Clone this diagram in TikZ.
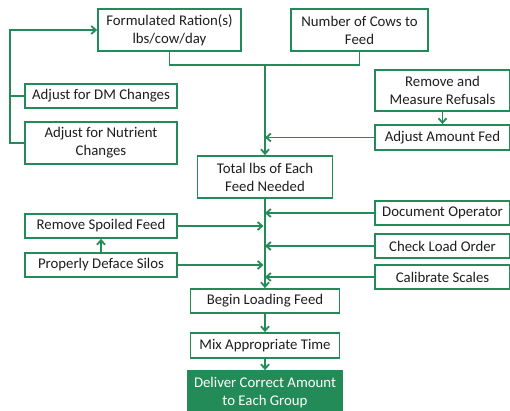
\documentclass[tikz,border=0pt]{standalone}
\usepackage{fontspec}
\setmainfont{Carlito}
\usepackage{tikz}
\usetikzlibrary{arrows.meta,positioning,calc}
\usepackage{xcolor}
\definecolor{feedgreen}{HTML}{238B57}
\definecolor{boxtext}{HTML}{1E1E1E}

\tikzset{
  stepbox/.style={draw=feedgreen,line width=1.8pt,fill=white,text=boxtext,
    align=center,inner sep=0pt,font=\fontsize{14.8}{18}\selectfont},
  finalbox/.style={stepbox,fill=feedgreen,text=white},
  flow/.style={draw=feedgreen,line width=1.8pt},
  flowarrow/.style={flow,-{Straight Barb[length=4.5pt,width=8pt]}}
}

\begin{document}
\begin{tikzpicture}[x=1pt,y=-1pt]
  \useasboundingbox (0,0) rectangle (510,411);

  % inputs at the top
  \node[stepbox,minimum width=143pt,minimum height=42pt] (ration) at (169.5,30) {Formulated Ration(s)\\lbs/cow/day};
  \node[stepbox,minimum width=137pt,minimum height=42pt] (cows) at (359.5,30) {Number of Cows to\\Feed};

  % adjustments on the left
  \node[stepbox,minimum width=152pt,minimum height=24pt] (dm) at (101,96) {Adjust for DM Changes};
  \node[stepbox,minimum width=152pt,minimum height=42pt] (nutrient) at (101,143) {Adjust for Nutrient\\Changes};

  % refusals on the right
  \node[stepbox,minimum width=135pt,minimum height=41pt] (refusals) at (442.5,90.5) {Remove and\\Measure Refusals};
  \node[stepbox,minimum width=135pt,minimum height=25pt] (adjfed) at (442.5,137.5) {Adjust Amount Fed};

  \node[stepbox,minimum width=135pt,minimum height=42pt] (total) at (265,177) {Total lbs of Each\\Feed Needed};

  % checks before loading
  \foreach \name/\y/\txt in {docop/213/Document Operator,loadorder/246/Check Load Order,scales/277/Calibrate Scales}
    \node[stepbox,minimum width=135pt,minimum height=24pt] (\name) at (442.5,\y) {\txt};
  \node[stepbox,minimum width=152pt,minimum height=24pt] (spoiled) at (101,226) {Remove Spoiled Feed};
  \node[stepbox,minimum width=152pt,minimum height=24pt] (deface) at (101,265) {Properly Deface Silos};

  % loading and delivery
  \node[stepbox,minimum width=149pt,minimum height=24pt] (begin) at (265,301) {Begin Loading Feed};
  \node[stepbox,minimum width=149pt,minimum height=25pt] (mix) at (265,345.5) {Mix Appropriate Time};
  \node[finalbox,minimum width=155pt,minimum height=44pt] (deliver) at (265,393) {Deliver Correct Amount\\to Each Group};

  \coordinate (merge) at (265,65);
  \coordinate (bend) at (10,30);

  % connectors
  \draw[flow] (ration.south) |- (merge) -| (cows.south);
  \draw[flowarrow] (merge) -- (total.north);
  \draw[flowarrow] (total.south) -- (begin.north);
  \draw[flowarrow] (begin.south) -- (mix.north);
  \draw[flowarrow] (mix.south) -- (deliver.north);
  \draw[flowarrow] (refusals.south) -- (adjfed.north);
  \draw[flowarrow] (adjfed.west) -- (adjfed.west -| merge);
  \foreach \n in {docop,loadorder,scales}
    \draw[flowarrow] (\n.west) -- (\n.west -| merge);
  \foreach \n in {spoiled,deface}
    \draw[flowarrow] (\n.east) -- ($(\n.east -| merge)+(-1.5,0)$);
  \draw[flowarrow] (deface.north) -- (spoiled.south);
  \draw[flowarrow] (nutrient.west) -| (bend) -- (ration.west);
  \draw[flow] (dm.west) -- (dm.west -| bend);
\end{tikzpicture}
\end{document}
